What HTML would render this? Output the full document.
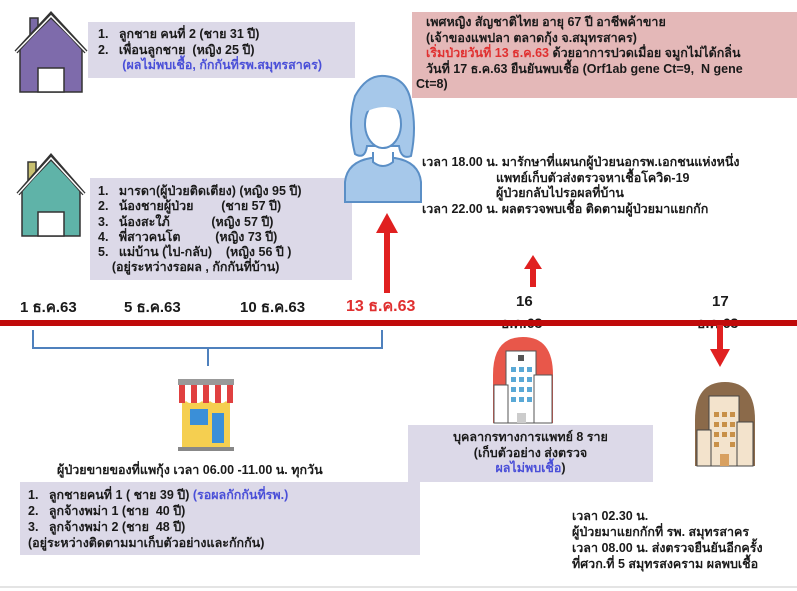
<!DOCTYPE html>
<html><head><meta charset="utf-8"><style>
body{margin:0;width:797px;height:591px;background:#fff;position:relative;overflow:hidden;font-family:"Liberation Sans","DejaVu Sans",sans-serif;font-weight:bold;color:#1a1a1a}
.a{position:absolute}
.box{position:absolute;background:#dcd9e8}
.t{font-size:12.5px;line-height:15.5px;white-space:nowrap}
.blue{color:#4a4fd8}
.red{color:#e03030}
</style></head><body>
<!-- purple house -->
<svg class="a" style="left:14px;top:10px" width="75" height="85" viewBox="0 0 75 85">
<rect x="16" y="8" width="8" height="20" fill="#7a6aa6" stroke="#333" stroke-width="1.5"/>
<polygon points="6,38 37,8 68,38 68,82 6,82" fill="#7e6bab" stroke="#333" stroke-width="1.5"/>
<polyline points="2,42 37,4 72,42" fill="none" stroke="#333" stroke-width="4"/>
<polyline points="2,42 37,6 72,42" fill="none" stroke="#fff" stroke-width="1.5"/>
<rect x="24" y="58" width="26" height="24" fill="#fff" stroke="#333" stroke-width="1.5"/>
</svg>
<div class="box t" style="left:88px;top:22px;width:267px;height:56px;padding:5px 0 0 10px;box-sizing:border-box">1.&nbsp;&nbsp;&nbsp;ลูกชาย คนที่ 2 (ชาย 31 ปี)<br>2.&nbsp;&nbsp;&nbsp;เพื่อนลูกชาย&nbsp;&nbsp;(หญิง 25 ปี)<br><span class="blue">&nbsp;&nbsp;&nbsp;&nbsp;&nbsp;&nbsp;&nbsp;(ผลไม่พบเชื้อ, กักกันที่รพ.สมุทรสาคร)</span></div>
<!-- teal house -->
<svg class="a" style="left:16px;top:152px" width="70" height="88" viewBox="0 0 70 88">
<rect x="12" y="10" width="8" height="20" fill="#c8c070" stroke="#333" stroke-width="1.5"/>
<polygon points="6,38 35,8 64,38 64,84 6,84" fill="#5fb3a8" stroke="#333" stroke-width="1.5"/>
<polyline points="2,42 35,4 68,42" fill="none" stroke="#333" stroke-width="4"/>
<polyline points="2,42 35,6 68,42" fill="none" stroke="#fff" stroke-width="1.5"/>
<rect x="22" y="60" width="26" height="24" fill="#fff" stroke="#333" stroke-width="1.5"/>
</svg>
<div class="box t" style="left:90px;top:178px;width:262px;height:102px;padding:6px 0 0 8px;box-sizing:border-box;line-height:15.3px">1.&nbsp;&nbsp;&nbsp;มารดา(ผู้ป่วยติดเตียง) (หญิง 95 ปี)<br>2.&nbsp;&nbsp;&nbsp;น้องชายผู้ป่วย&nbsp;&nbsp;&nbsp;&nbsp;&nbsp;&nbsp;&nbsp;&nbsp;(ชาย 57 ปี)<br>3.&nbsp;&nbsp;&nbsp;น้องสะใภ้&nbsp;&nbsp;&nbsp;&nbsp;&nbsp;&nbsp;&nbsp;&nbsp;&nbsp;&nbsp;&nbsp;&nbsp;(หญิง 57 ปี)<br>4.&nbsp;&nbsp;&nbsp;พี่สาวคนโต&nbsp;&nbsp;&nbsp;&nbsp;&nbsp;&nbsp;&nbsp;&nbsp;&nbsp;&nbsp;(หญิง 73 ปี)<br>5.&nbsp;&nbsp;&nbsp;แม่บ้าน (ไป-กลับ)&nbsp;&nbsp;&nbsp;&nbsp;(หญิง 56 ปี )<br>&nbsp;&nbsp;&nbsp;&nbsp;(อยู่ระหว่างรอผล , กักกันที่บ้าน)</div>
<!-- woman -->
<svg class="a" style="left:343px;top:72px" width="80" height="132" viewBox="0 0 80 132">
<path d="M2,130 L2,110 Q4,90 28,86 L52,86 Q76,90 78,110 L78,130 Z" fill="#a6c8ea" stroke="#5b8fc6" stroke-width="2"/>
<path d="M12,82 Q4,50 12,24 Q24,2 42,4 Q64,6 68,30 Q74,56 68,84 Q58,88 56,74 L24,74 Q22,88 12,82 Z" fill="#a6c8ea" stroke="#5b8fc6" stroke-width="2"/>
<ellipse cx="40" cy="52" rx="18" ry="24" fill="#fff" stroke="#5b8fc6" stroke-width="2"/>
<path d="M22,40 Q30,24 52,24 Q58,32 58,40 Q44,30 22,40Z" fill="#a6c8ea"/>
<path d="M30,80 L30,90 Q40,98 50,90 L50,80" fill="#fff" stroke="#5b8fc6" stroke-width="2"/>
</svg>
<!-- red up arrow -->
<svg class="a" style="left:376px;top:213px" width="22" height="80"><rect x="8" y="18" width="6" height="62" fill="#e02020"/><polygon points="11,0 22,20 0,20" fill="#e02020"/></svg>
<!-- pink box -->
<div class="a t" style="left:412px;top:12px;width:385px;height:86px;background:#e4b8b8;padding:3px 0 0 14px;box-sizing:border-box;line-height:15.5px">เพศหญิง สัญชาติไทย อายุ 67 ปี อาชีพค้าขาย<br>(เจ้าของแพปลา ตลาดกุ้ง จ.สมุทรสาคร)<br><span class="red">เริ่มป่วยวันที่ 13 ธ.ค.63</span> ด้วยอาการปวดเมื่อย จมูกไม่ได้กลิ่น<br>วันที่ 17 ธ.ค.63 ยืนยันพบเชื้อ (Orf1ab gene Ct=9,&nbsp; N gene<br><span style="margin-left:-10px">Ct=8)</span></div>
<div class="a t" style="left:422px;top:155px;line-height:15.5px">เวลา 18.00 น. มารักษาที่แผนกผู้ป่วยนอกรพ.เอกชนแห่งหนึ่ง<br><span style="margin-left:74px">แพทย์เก็บตัวส่งตรวจหาเชื้อโควิด-19</span><br><span style="margin-left:74px">ผู้ป่วยกลับไปรอผลที่บ้าน</span><br>เวลา 22.00 น. ผลตรวจพบเชื้อ ติดตามผู้ป่วยมาแยกกัก</div>
<svg class="a" style="left:524px;top:255px" width="18" height="32"><rect x="6" y="12" width="6" height="20" fill="#e02020"/><polygon points="9,0 18,14 0,14" fill="#e02020"/></svg>
<!-- dates -->
<div class="a" style="left:20px;top:295px;font-size:15px">1 ธ.ค.63</div>
<div class="a" style="left:124px;top:295px;font-size:15px">5 ธ.ค.63</div>
<div class="a" style="left:240px;top:295px;font-size:15px">10 ธ.ค.63</div>
<div class="a red" style="left:346px;top:294px;font-size:16px">13 ธ.ค.63</div>
<div class="a" style="left:516px;top:293px;font-size:15px">16</div>
<div class="a" style="left:501px;top:313px;font-size:14px">ธ.ค.63</div>
<div class="a" style="left:712px;top:293px;font-size:15px">17</div>
<div class="a" style="left:697px;top:313px;font-size:14px">ธ.ค.63</div>
<div class="a" style="left:0;top:320px;width:797px;height:6px;background:#c00a0a"></div>
<!-- brace -->
<svg class="a" style="left:30px;top:328px" width="360" height="40"><path d="M3,2 L3,20 L352,20 L352,2 M178,20 L178,38" fill="none" stroke="#4f81bd" stroke-width="2"/></svg>
<!-- shop -->
<svg class="a" style="left:176px;top:375px" width="60" height="78" viewBox="0 0 60 78">
<rect x="6" y="26" width="48" height="46" fill="#f5cf50"/>
<rect x="14" y="34" width="18" height="16" fill="#3a8fd8"/><rect x="36" y="38" width="12" height="30" fill="#3a8fd8"/>
<rect x="2" y="4" width="56" height="6" fill="#999"/>
<path d="M2,10 L58,10 L58,26 Q54,30 50,26 Q46,30 42,26 Q38,30 34,26 Q30,30 26,26 Q22,30 18,26 Q14,30 10,26 Q6,30 2,26Z" fill="#fff"/>
<path d="M6,10 L6,28 M18,10 L18,28 M30,10 L30,28 M42,10 L42,28 M54,10 L54,28" stroke="#e04040" stroke-width="6"/>
<rect x="2" y="72" width="56" height="4" fill="#888"/>
</svg>
<!-- red hospital -->
<svg class="a" style="left:490px;top:335px" width="66" height="92" viewBox="0 0 66 92">
<path d="M3,40 Q3,2 33,2 Q63,2 63,40 L63,88 L3,88Z" fill="#e8574a"/>
<rect x="16" y="16" width="30" height="72" fill="#fff" stroke="#555"/>
<rect x="4" y="50" width="14" height="38" fill="#fff" stroke="#555"/><rect x="44" y="40" width="18" height="48" fill="#fff" stroke="#555"/>
<g fill="#5aa9d6"><rect x="21" y="32" width="5" height="5"/><rect x="29" y="32" width="5" height="5"/><rect x="37" y="32" width="5" height="5"/><rect x="21" y="42" width="5" height="5"/><rect x="29" y="42" width="5" height="5"/><rect x="37" y="42" width="5" height="5"/><rect x="21" y="52" width="5" height="5"/><rect x="29" y="52" width="5" height="5"/><rect x="37" y="52" width="5" height="5"/><rect x="21" y="62" width="5" height="5"/><rect x="29" y="62" width="5" height="5"/><rect x="37" y="62" width="5" height="5"/></g>
<rect x="27" y="78" width="9" height="10" fill="#ccc"/><rect x="28" y="20" width="6" height="6" fill="#555"/>
</svg>
<div class="box t" style="left:408px;top:425px;width:245px;height:57px;text-align:center;padding-top:5px;box-sizing:border-box;line-height:15.5px">บุคลากรทางการแพทย์ 8 ราย<br>(เก็บตัวอย่าง ส่งตรวจ<br><span class="blue">ผลไม่พบเชื้อ</span>)</div>
<!-- down arrow -->
<svg class="a" style="left:710px;top:325px" width="20" height="42"><rect x="7" y="0" width="6" height="26" fill="#e02020"/><polygon points="0,24 20,24 10,42" fill="#e02020"/></svg>
<!-- brown hospital -->
<svg class="a" style="left:693px;top:380px" width="64" height="88" viewBox="0 0 64 88">
<path d="M2,40 Q2,2 32,2 Q62,2 62,40 L62,86 L2,86Z" fill="#8b6a4a"/>
<rect x="16" y="16" width="30" height="70" fill="#f3e3cc" stroke="#444"/>
<rect x="4" y="50" width="14" height="36" fill="#f3e3cc" stroke="#444"/><rect x="44" y="42" width="16" height="44" fill="#f3e3cc" stroke="#444"/>
<g fill="#c89048"><rect x="21" y="32" width="5" height="5"/><rect x="29" y="32" width="5" height="5"/><rect x="37" y="32" width="5" height="5"/><rect x="21" y="42" width="5" height="5"/><rect x="29" y="42" width="5" height="5"/><rect x="37" y="42" width="5" height="5"/><rect x="21" y="52" width="5" height="5"/><rect x="29" y="52" width="5" height="5"/><rect x="37" y="52" width="5" height="5"/><rect x="21" y="62" width="5" height="5"/><rect x="37" y="62" width="5" height="5"/></g>
<rect x="27" y="74" width="9" height="12" fill="#d8a060"/>
</svg>
<div class="a t" style="left:57px;top:463px">ผู้ป่วยขายของที่แพกุ้ง เวลา 06.00 -11.00 น. ทุกวัน</div>
<div class="box t" style="left:20px;top:482px;width:400px;height:73px;padding:5px 0 0 8px;box-sizing:border-box;line-height:16px">1.&nbsp;&nbsp;&nbsp;ลูกชายคนที่ 1 ( ชาย 39 ปี) <span class="blue">(รอผลกักกันที่รพ.)</span><br>2.&nbsp;&nbsp;&nbsp;ลูกจ้างพม่า 1 (ชาย&nbsp; 40 ปี)<br>3.&nbsp;&nbsp;&nbsp;ลูกจ้างพม่า 2 (ชาย&nbsp; 48 ปี)<br>(อยู่ระหว่างติดตามมาเก็บตัวอย่างและกักกัน)</div>
<div class="a t" style="left:572px;top:508px;line-height:16px">เวลา 02.30 น.<br>ผู้ป่วยมาแยกกักที่ รพ. สมุทรสาคร<br>เวลา 08.00 น. ส่งตรวจยืนยันอีกครั้ง<br>ที่ศวก.ที่ 5 สมุทรสงคราม ผลพบเชื้อ</div>
<div class="a" style="left:0;top:586px;width:797px;height:2px;background:#e4e4e4"></div>
</body></html>
